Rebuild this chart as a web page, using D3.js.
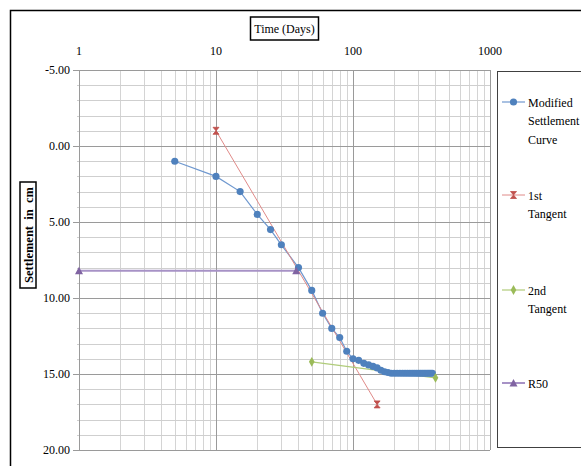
<!DOCTYPE html>
<html>
<head>
<meta charset="utf-8">
<script src="https://d3js.org/d3.v7.min.js"></script>
<style>
  body { margin: 0; background: #fff; }
</style>
</head>
<body>
<script>
// settlement curve (time in days, settlement in cm)
const curveDays = [5, 10, 15, 20, 25, 30, 40, 50, 60, 70, 80, 90, 100, 110, 120, 130, 140, 150, 160, 170,
    180, 190, 200, 210, 220, 230, 240, 250, 260, 270, 280, 290, 300, 310, 320, 330, 340, 350, 360, 370, 380];
const curveSettle = [1.0, 2.0, 3.0, 4.5, 5.5, 6.5, 8.0, 9.5, 11.0, 12.0, 12.6, 13.5, 14.0, 14.1, 14.3, 14.4, 14.5, 14.6, 14.75, 14.85,
    14.9, 14.95, 14.95, 14.95, 14.95, 14.95, 14.95, 14.95, 14.95, 14.95, 14.95, 14.95, 14.95, 14.95, 14.95, 14.95, 14.95, 14.95, 14.95, 14.95, 14.95];
const tangent1Days = [10, 150];
const tangent1Settle = [-1.0, 17.0];
const tangent2Days = [50, 400];
const tangent2Settle = [14.2, 15.25];
const r50Days = [1, 38.5];
const r50Settle = [8.2, 8.2];

const xTicks = [1, 10, 100, 1000];
const yTicks = [-5, 0, 5, 10, 15, 20];

const seriesNames = [["Modified", "Settlement", "Curve"], ["1st", "Tangent"], ["2nd", "Tangent"], ["R50"]];

const W = 581, H = 466;
const margin = {top: 70, left: 79, right: 91, bottom: 16};
const width = W - margin.left - margin.right,
    height = H - margin.top - margin.bottom;

const x = d3.scaleLog().domain([1, 1000]).range([0, width]);
const y = d3.scaleLinear().domain([-5, 20]).range([0, height]);

const zip = (a, b) => a.map((d, i) => ({t: d, s: b[i]}));

const series = [
    {data: zip(curveDays, curveSettle), color: "#4F81BD", line: "#6f98cf", lw: 1.2, marker: "circle"},
    {data: zip(tangent1Days, tangent1Settle), color: "#C0504D", line: "#e08a88", lw: 1, marker: "bowtie"},
    {data: zip(tangent2Days, tangent2Settle), color: "#9BBB59", line: "#b0cc7a", lw: 1.2, marker: "diamond"},
    {data: zip(r50Days, r50Settle), color: "#8064A2", line: "#a792c6", lw: 2, marker: "triangle"},
];

const svg = d3.select("body").append("svg")
    .attr("width", W)
    .attr("height", H)
    .attr("font-family", "'Liberation Serif', 'Times New Roman', serif");

svg.append("rect").attr("width", W).attr("height", H).attr("fill", "#fff");

// outer chart border
svg.append("rect")
    .attr("x", 10.5).attr("y", 10.5)
    .attr("width", 700).attr("height", 700)
    .attr("fill", "none").attr("stroke", "#000").attr("stroke-width", 1.5);

const g = svg.append("g")
    .attr("transform", `translate(${margin.left}, ${margin.top})`);

// minor grid
const minorX = [];
[1, 10, 100].forEach(dec => d3.range(2, 10).forEach(k => minorX.push(dec * k)));
g.append("g").selectAll("line")
    .data(minorX)
    .join("line")
    .attr("x1", d => Math.round(x(d)) + 0.5).attr("x2", d => Math.round(x(d)) + 0.5)
    .attr("y1", 0).attr("y2", height)
    .attr("stroke", "#d4d4d4");

g.append("g").selectAll("line")
    .data(d3.range(-4, 20).filter(d => d % 5 !== 0))
    .join("line")
    .attr("x1", -2).attr("x2", width)
    .attr("y1", d => Math.round(y(d)) + 0.5).attr("y2", d => Math.round(y(d)) + 0.5)
    .attr("stroke", "#cfcfcf");

// major grid
g.append("g").selectAll("line")
    .data(xTicks)
    .join("line")
    .attr("x1", d => Math.round(x(d)) + 0.5).attr("x2", d => Math.round(x(d)) + 0.5)
    .attr("y1", 0).attr("y2", height)
    .attr("stroke", "#9a9a9a");

g.append("g").selectAll("line")
    .data(yTicks)
    .join("line")
    .attr("x1", -6).attr("x2", width)
    .attr("y1", d => Math.round(y(d)) + 0.5).attr("y2", d => Math.round(y(d)) + 0.5)
    .attr("stroke", "#9a9a9a");

// tick labels
g.append("g").selectAll("text")
    .data(xTicks)
    .join("text")
    .attr("x", d => x(d)).attr("y", -15)
    .attr("text-anchor", "middle")
    .attr("font-size", 12)
    .text(d => d);

g.append("g").selectAll("text")
    .data(yTicks)
    .join("text")
    .attr("x", -9).attr("y", d => y(d) + 4)
    .attr("text-anchor", "end")
    .attr("font-size", 12)
    .text(d => d3.format(".2f")(d).replace("\u2212", "-"));

// series lines + markers
const line = d3.line().x(d => x(d.t)).y(d => y(d.s));

const markerPath = (type) => {
    if (type === "circle") return d3.symbol(d3.symbolCircle, 40)();
    if (type === "diamond") return d3.symbol(d3.symbolDiamond, 28)();
    if (type === "triangle") return "M0,-4L4,3.5L-4,3.5Z";
    return "M-3,-3.5H3L-3,3.5H3Z";
};

series.forEach(s => {
    g.append("path")
        .datum(s.data)
        .attr("d", line)
        .attr("fill", "none")
        .attr("stroke", s.line)
        .attr("stroke-width", s.lw);
});

series.forEach(s => {
    g.append("g").selectAll("path")
        .data(s.data)
        .join("path")
        .attr("transform", d => `translate(${x(d.t)}, ${y(d.s)})`)
        .attr("d", markerPath(s.marker))
        .attr("fill", s.color)
        .attr("stroke", s.marker === "bowtie" ? s.color : "none")
        .attr("stroke-width", 0.8);
});

// axis titles
const xt = svg.append("g").attr("transform", `translate(${margin.left + width / 2}, 28)`);
xt.append("rect").attr("x", -34).attr("y", -11).attr("width", 68).attr("height", 23)
    .attr("fill", "#fff").attr("stroke", "#000").attr("stroke-width", 1.5);
xt.append("text").attr("text-anchor", "middle").attr("y", 4.5).attr("font-size", 12)
    .text("Time (Days)");

const yt = svg.append("g").attr("transform", "translate(28, 235) rotate(-90)");
yt.append("rect").attr("x", -53).attr("y", -8).attr("width", 106).attr("height", 16)
    .attr("fill", "#fff").attr("stroke", "#000").attr("stroke-width", 1.5);
yt.append("text").attr("text-anchor", "middle").attr("y", 4.5).attr("font-size", 12.5)
    .attr("font-weight", "bold")
    .attr("xml:space", "preserve")
    .text("Settlement  in  cm");

// legend
const lg = svg.append("g");
lg.append("rect")
    .attr("x", 497.5).attr("y", 71.5).attr("width", 120).attr("height", 376)
    .attr("fill", "#fff").attr("stroke", "#404040").attr("stroke-width", 1);

const legendY = [102, 195, 290, 383];
series.forEach((s, i) => {
    const row = lg.append("g").attr("transform", `translate(0, ${legendY[i]})`);
    row.append("line").attr("x1", 502).attr("x2", 525)
        .attr("stroke", s.line).attr("stroke-width", s.lw);
    row.append("path").attr("transform", "translate(513.5, 0)")
        .attr("d", markerPath(s.marker)).attr("fill", s.color)
        .attr("stroke", s.marker === "bowtie" ? s.color : "none").attr("stroke-width", 0.8);
    row.selectAll("text")
        .data(seriesNames[i])
        .join("text")
        .attr("x", 528).attr("y", (d, j) => 4.5 + j * 18.5)
        .attr("font-size", 12)
        .text(d => d);
});
</script>
</body>
</html>
